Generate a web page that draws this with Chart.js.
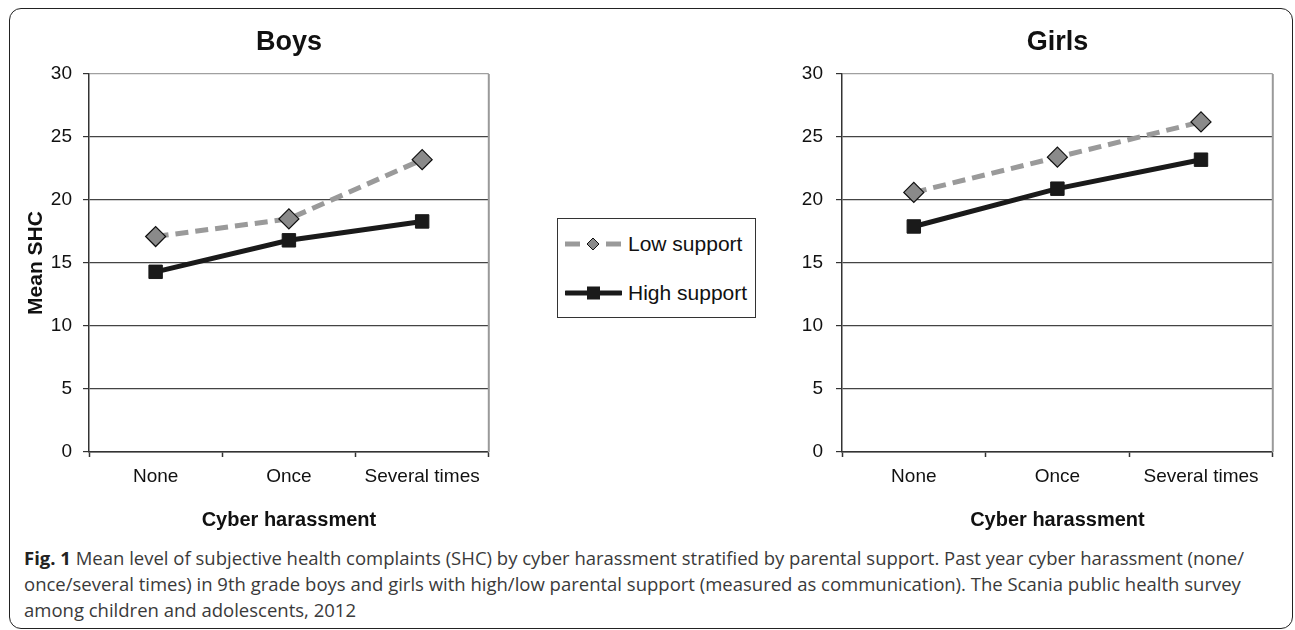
<!DOCTYPE html>
<html>
<head>
<meta charset="utf-8">
<script src="https://cdn.jsdelivr.net/npm/chart.js@4.4.1/dist/chart.umd.min.js"></script>
<style>
  body { margin: 0; width: 1295px; height: 630px; background: #fff; position: relative; overflow: hidden;
         font-family: "Liberation Sans", Arial, sans-serif; color: #111; }
  #frame { position: absolute; left: 9px; top: 8px; width: 1284px; height: 621px; box-sizing: border-box;
           border: 1.5px solid #222; border-radius: 12px; }
  #boys { position: absolute; left: 10px; top: 10px; }
  #girls { position: absolute; left: 780px; top: 10px; }
  #legend { position: absolute; left: 557px; top: 218px; width: 199px; height: 100px; box-sizing: border-box;
            border: 1px solid #333; background: #fff; }
  .item { position: absolute; left: 7px; height: 24px; display: flex; align-items: center; font-size: 21px; }
  .item svg { margin-right: 6px; }
  #caption { position: absolute; left: 24px; top: 545px; font-family: "Open Sans", sans-serif; font-size: 18.5px;
             line-height: 26px; color: #3a3a3a; white-space: nowrap; }
  #caption b { color: #222; }
</style>
</head>
<body>
<div id="frame"></div>
<canvas id="boys" width="490" height="530"></canvas>
<canvas id="girls" width="504" height="530"></canvas>

<!-- legend shared by both panels -->
<div id="legend">
  <div class="item" style="top:13px">
    <svg width="57" height="16" viewBox="0 0 57 16">
      <line x1="0" y1="8" x2="15" y2="8" stroke="#9a9a9a" stroke-width="5"/>
      <line x1="41" y1="8" x2="56" y2="8" stroke="#9a9a9a" stroke-width="5"/>
      <polygon points="28,2 34,8 28,14 22,8" fill="#8a8a8a" stroke="#111" stroke-width="1"/>
    </svg>Low support
  </div>
  <div class="item" style="top:62px">
    <svg width="57" height="16" viewBox="0 0 57 16">
      <line x1="1" y1="8" x2="56" y2="8" stroke="#1a1a1a" stroke-width="5" stroke-linecap="round"/>
      <rect x="22" y="1.5" width="13" height="13" fill="#1a1a1a"/>
    </svg>High support
  </div>
</div>

<div id="caption"><b>Fig. 1</b> Mean level of subjective health complaints (SHC) by cyber harassment stratified by parental support. Past year cyber harassment (none/<br>once/several times) in 9th grade boys and girls with high/low parental support (measured as communication). The Scania public health survey<br>among children and adolescents, 2012</div>

<script>
const categories = ["None", "Once", "Several times"];
const seriesNames = ["Low support", "High support"];
const boysLow = [17.1, 18.5, 23.2];
const boysHigh = [14.3, 16.8, 18.3];
const girlsLow = [20.6, 23.4, 26.2];
const girlsHigh = [17.9, 20.9, 23.2];
const yMin = 0, yMax = 30, yStep = 5;

const FONT = "'Liberation Sans', Arial, sans-serif";

// grey frame line on the right side of the plot area
const plotFrame = {
  id: "plotFrame",
  beforeDatasetsDraw(chart) {
    const { ctx, chartArea: a } = chart;
    ctx.save();
    ctx.strokeStyle = "#9a9a9a";
    ctx.lineWidth = 2;
    ctx.beginPath();
    ctx.moveTo(a.right, a.top);
    ctx.lineTo(a.right, a.bottom);
    ctx.stroke();
    ctx.restore();
  }
};

function makeChart(id, title, low, high, yTitle, yWidth, yPad) {
  return new Chart(document.getElementById(id), {
    type: "line",
    data: {
      labels: categories,
      datasets: [
        {
          label: seriesNames[0],
          data: low,
          borderColor: "#9a9a9a",
          borderWidth: 5,
          borderDash: [13, 7],
          pointStyle: "rectRot",
          pointRadius: 10,
          pointBackgroundColor: "#8a8a8a",
          pointBorderColor: "#111",
          pointBorderWidth: 1.2,
        },
        {
          label: seriesNames[1],
          data: high,
          borderColor: "#1a1a1a",
          borderWidth: 5,
          pointStyle: "rect",
          pointRadius: 9.5,
          pointBackgroundColor: "#1a1a1a",
          pointBorderColor: "#1a1a1a",
          pointBorderWidth: 1,
        }
      ]
    },
    options: {
      responsive: false,
      animation: false,
      layout: { padding: { right: 10 } },
      plugins: {
        legend: { display: false },
        tooltip: { enabled: false },
        title: {
          display: true,
          text: title,
          fullSize: false,
          color: "#111",
          font: { family: FONT, size: 27, weight: "bold" },
          padding: { top: 16, bottom: 15.6 }
        }
      },
      scales: {
        x: {
          offset: true,
          afterFit: (s) => { s.height = 88; },
          grid: { offset: true, drawOnChartArea: false, tickLength: 5, tickColor: "#333", tickWidth: 1.5 },
          border: { color: "#333", width: 1.5 },
          ticks: { color: "#111", padding: 8, font: { family: FONT, size: 19 } },
          title: { display: true, text: "Cyber harassment", color: "#111",
                   font: { family: FONT, size: 20, weight: "bold" }, padding: { top: 0, bottom: 8 } }
        },
        y: {
          min: yMin, max: yMax,
          afterFit: (s) => { s.width = yWidth; },
          grid: {
            color: (c) => (c.tick && c.tick.value === yMax ? "#a0a0a0" : "#444"),
            lineWidth: 1.2,
            tickLength: 6, tickColor: "#333"
          },
          border: { color: "#333", width: 1.5 },
          ticks: { stepSize: yStep, color: "#111", padding: yPad, font: { family: FONT, size: 19 } },
          title: { display: !!yTitle, text: yTitle || "", color: "#111",
                   font: { family: FONT, size: 21, weight: "bold" }, padding: { top: 14, bottom: 0 } }
        }
      }
    },
    plugins: [plotFrame]
  });
}

makeChart("boys", "Boys", boysLow, boysHigh, "Mean SHC", 79, 11);
makeChart("girls", "Girls", girlsLow, girlsHigh, null, 62, 13);
</script>
</body>
</html>
